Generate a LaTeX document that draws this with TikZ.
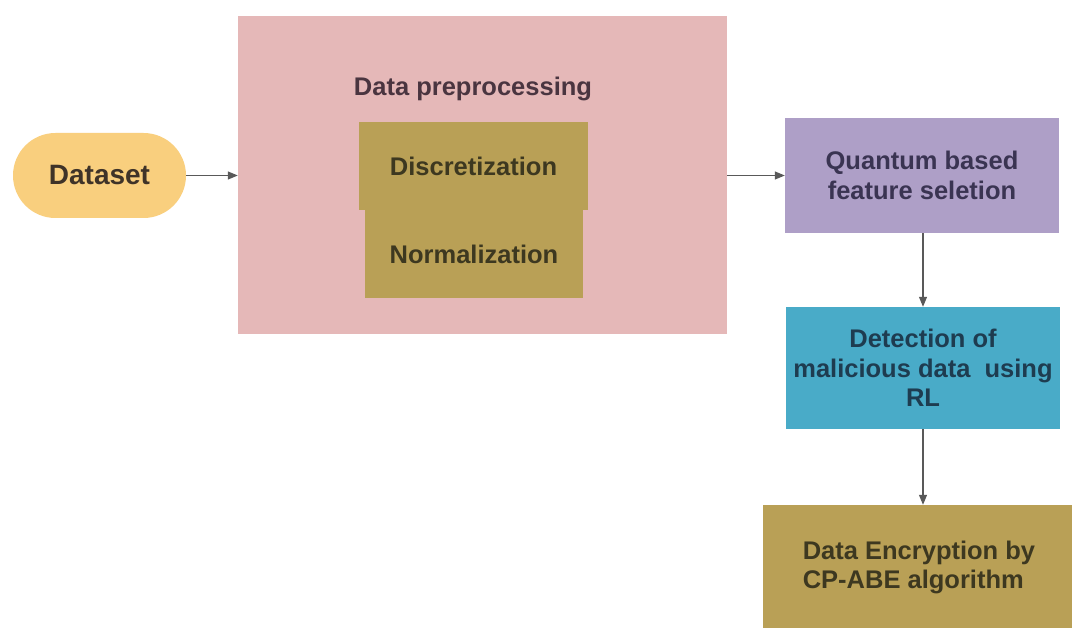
\documentclass[tikz,border=0pt]{standalone}
\usepackage{fontspec}
\setmainfont{Liberation Sans}
\usetikzlibrary{arrows.meta}
\definecolor{dsfill}{HTML}{F9CF7E}
\definecolor{dstext}{HTML}{3F3328}
\definecolor{pinkfill}{HTML}{E5B8B8}
\definecolor{pinktext}{HTML}{4A3540}
\definecolor{goldfill}{HTML}{B9A056}
\definecolor{goldtext}{HTML}{3D3820}
\definecolor{lavfill}{HTML}{AE9FC7}
\definecolor{lavtext}{HTML}{3A3452}
\definecolor{bluefill}{HTML}{49ABC8}
\definecolor{bluetext}{HTML}{1E3C50}
\definecolor{arrowc}{HTML}{595959}
\begin{document}
\begin{tikzpicture}[x=1pt,y=-1pt,
  box/.style={draw=none, inner sep=0pt, align=center, font=\fontsize{25.5}{29.5}\selectfont\bfseries},
  conn/.style={draw=arrowc, line width=1.1pt, -{Triangle[length=10pt,width=8pt]}}]
\useasboundingbox (0,0) rectangle (1072,628);
\fill[white] (0,0) rectangle (1072,628);
% dataset
\node[box, fill=dsfill, rounded corners=42.5pt, minimum width=173pt, minimum height=85pt, text=dstext, font=\fontsize{28}{32}\selectfont\bfseries] (dataset) at (99.5,175.5) {Dataset};
% preprocessing container
\node[box, fill=pinkfill, minimum width=489pt, minimum height=318pt] (prep) at (482.5,175) {};
\node[box, text=pinktext] (preptitle) at (473,89) {Data preprocessing};
\node[box, fill=goldfill, text=goldtext, minimum width=218pt, minimum height=88pt] (norm) at (474,254) {Normalization};
\node[box, fill=goldfill, text=goldtext, minimum width=229pt, minimum height=88pt] (disc) at (473.5,166) {Discretization};
% right column
\node[box, fill=lavfill, text=lavtext, minimum width=274pt, minimum height=115pt] (quantum) at (922,175.5) {Quantum based\\feature seletion};
\node[box, fill=bluefill, text=bluetext, minimum width=274pt, minimum height=122pt] (detect) at (923,368) {Detection of\\malicious data~ using\\RL};
\node[box, fill=goldfill, text=goldtext, align=left, minimum width=312pt, minimum height=125pt] (enc) at (919,567.5) {Data Encryption by\\CP-ABE algorithm};
% connectors
\draw[conn] (dataset.east) -- (dataset.east -| prep.west);
\draw[conn] (prep.east |- quantum.west) -- (quantum.west);
\draw[conn] (detect.north |- quantum.south) -- (detect.north);
\draw[conn] (detect.south) -- (detect.south |- enc.north);
\end{tikzpicture}
\end{document}
